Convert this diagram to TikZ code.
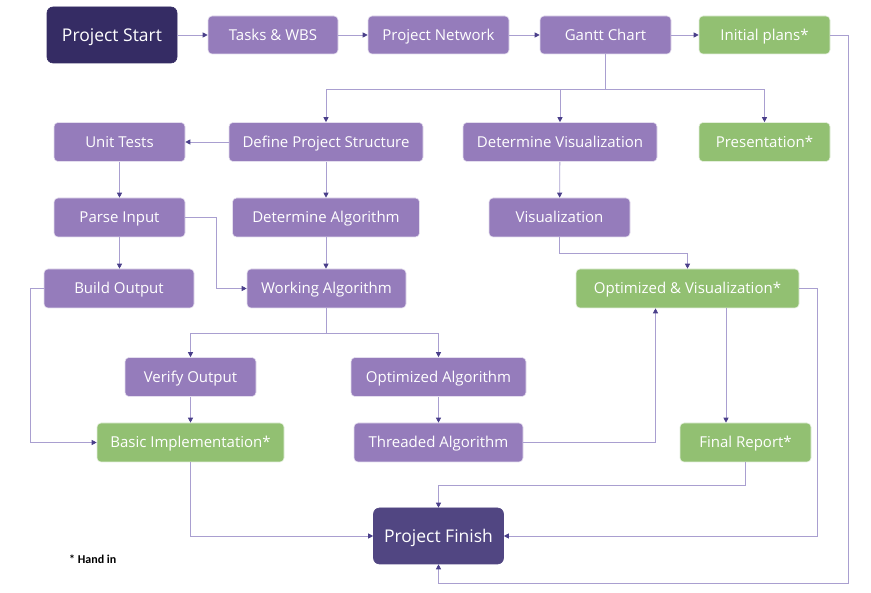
\documentclass[tikz,border=0pt]{standalone}
\usepackage{fontspec}
\setmainfont{Open Sans}
\newfontfamily\notefont{Carlito}
\usetikzlibrary{arrows.meta,calc}
\definecolor{purp}{HTML}{957CBB}
\definecolor{grn}{HTML}{92C072}
\definecolor{startc}{HTML}{352C64}
\definecolor{finishc}{HTML}{514682}
\definecolor{linec}{HTML}{A99FD0}
\definecolor{arrowc}{HTML}{4A3F8A}
\tikzset{
  box/.style={rounded corners=4pt, minimum height=39pt, inner sep=0pt, text=white,
    font=\fontsize{15}{17}\selectfont, text height=10.7pt, text depth=0pt,
    draw=white!75!purp, line width=0.6pt},
  pbox/.style={box, fill=purp},
  gbox/.style={box, fill=grn, draw=white!75!grn},
  bigbox/.style={box, minimum height=56pt, minimum width=130pt, rounded corners=6pt,
    font=\fontsize{17.5}{20}\selectfont, text height=12.5pt, text depth=0pt},
  conn/.style={draw=linec, line width=0.8pt, -{Triangle[length=5pt,width=5pt,color=arrowc]}},
  plain/.style={draw=linec, line width=0.8pt},
}
\begin{document}
\begin{tikzpicture}[x=1pt,y=-1pt]
\useasboundingbox (0,0) rectangle (871,593);
% row 1
\node[bigbox, fill=startc, draw=startc] (start) at (112,35) {Project Start};
\node[pbox, minimum width=130pt, minimum height=38pt] (tasks) at (273,35) {Tasks \& WBS};
\node[pbox, minimum width=141pt, minimum height=38pt] (network) at (438.5,35) {Project Network};
\node[pbox, minimum width=131pt, minimum height=38pt] (gantt) at (605.5,35) {Gantt Chart};
\node[gbox, minimum width=131pt, minimum height=38pt] (initial) at (764.5,35) {Initial plans*};
% row 2
\node[pbox, minimum width=131pt] (unit) at (119.5,142) {Unit Tests};
\node[pbox, minimum width=194pt] (define) at (326,142) {Define Project Structure};
\node[pbox, minimum width=194pt] (detvis) at (560,142) {Determine Visualization};
\node[gbox, minimum width=131pt] (present) at (764.5,142) {Presentation*};
% row 3
\node[pbox, minimum width=131pt] (parse) at (119.5,217.5) {Parse Input};
\node[pbox, minimum width=187pt] (detalg) at (326,217.5) {Determine Algorithm};
\node[pbox, minimum width=141pt] (vis) at (559.5,217.5) {Visualization};
% row 4
\node[pbox, minimum width=150pt] (build) at (119,288.5) {Build Output};
\node[pbox, minimum width=159pt] (working) at (326.5,288.5) {Working Algorithm};
\node[gbox, minimum width=223pt] (optvis) at (687.5,288.5) {Optimized \& Visualization*};
% row 5
\node[pbox, minimum width=131pt] (verify) at (190.5,377) {Verify Output};
\node[pbox, minimum width=175pt] (optalg) at (438.5,377) {Optimized Algorithm};
% row 6
\node[gbox, minimum width=187pt] (basic) at (190.5,442.5) {Basic Implementation*};
\node[pbox, minimum width=169pt] (threaded) at (438.5,442.5) {Threaded Algorithm};
\node[gbox, minimum width=131pt] (final) at (745.5,442.5) {Final Report*};
% finish
\node[bigbox, fill=finishc, draw=finishc] (finish) at (438.5,536) {Project Finish};
\node[anchor=west, font=\notefont\bfseries\fontsize{12}{14}\selectfont, inner sep=0pt] (note) at (69,559) {* Hand in};

% connectors
\draw[conn] (start) -- (tasks);
\draw[conn] (tasks) -- (network);
\draw[conn] (network) -- (gantt);
\draw[conn] (gantt) -- (initial);

\coordinate (gb) at ($(gantt.south)+(0,35)$);
\draw[plain] (gantt.south) -- (gb);
\draw[conn] (gb) -| (define.north);
\draw[conn] (gb) -| (detvis.north);
\draw[conn] (gb) -| (present.north);

\draw[conn] (define) -- (unit);
\draw[conn] (unit) -- (parse);
\draw[conn] (parse) -- (parse.south |- build.north);
\draw[conn] (parse.east) -- ++(31,0) |- (working.west);
\draw[conn] (define) -- (detalg);
\draw[conn] (detalg.south) -- (detalg.south |- working.north);

\coordinate (wb) at ($(working.south)+(-0.5,25)$);
\draw[plain] (working.south) -- (working.south |- wb);
\draw[conn] (working.south |- wb) -| (verify.north);
\draw[conn] (working.south |- wb) -| (optalg.north);

\draw[conn] (build.west) -- ++(-13,0) |- (basic.west);
\draw[conn] (verify) -- (basic);
\draw[conn] (optalg) -- (threaded);

\coordinate (ovb) at ($(optvis.south)+(-32,0)$);
\draw[conn] (threaded.east) -| (ovb);

\draw[conn] (detvis) -- (vis);
\draw[conn] (vis.south) -- ++(0,16) -| (optvis.north);

\coordinate (ovr) at ($(optvis.south)+(38.5,0)$);
\draw[conn] (ovr) -- (ovr |- final.north);

\draw[conn] (final.south) -- ++(0,23) -| (finish.north);
\draw[conn] (optvis.east) -- ++(18,0) |- (finish.east);
\draw[conn] (initial.east) -- ++(18.5,0) |- ($(finish.south)+(0,19)$) -- (finish.south);
\draw[conn] (basic.south) |- (finish.west);
\end{tikzpicture}
\end{document}
